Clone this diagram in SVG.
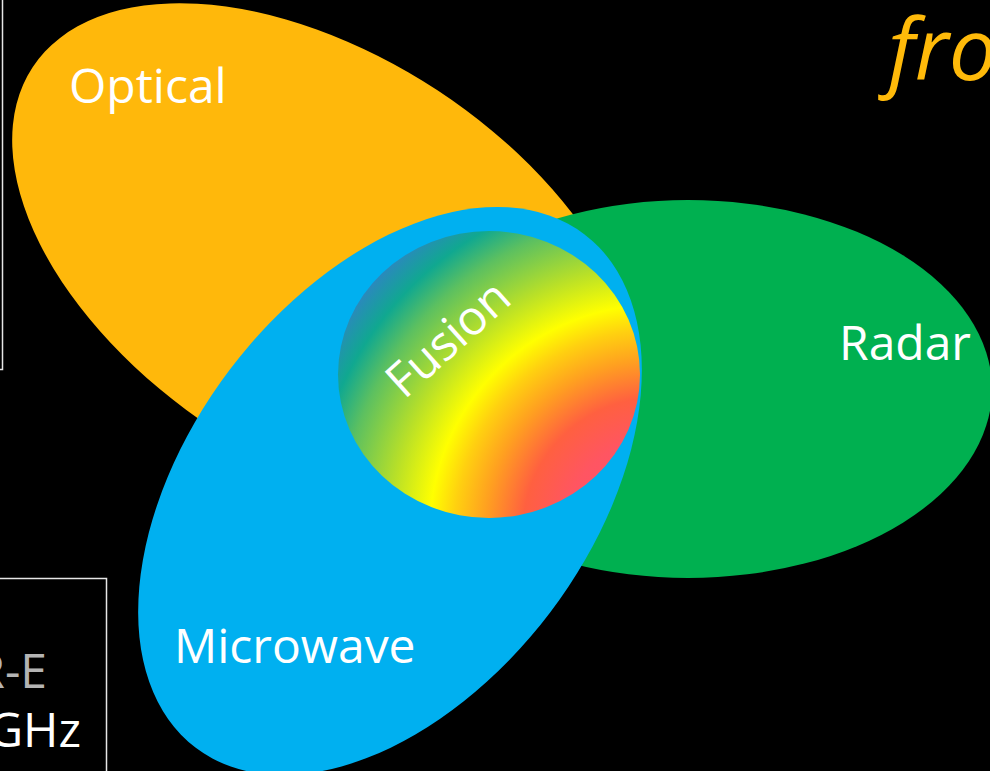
<svg xmlns="http://www.w3.org/2000/svg" width="990" height="771" viewBox="0 0 990 771">
  <defs>
    <style>
      .lbl { font-family: "Open Sans", "Liberation Sans", sans-serif; font-size: 48px; fill: #FFFFFF; }
      .box { fill: none; stroke: #E6E6E6; stroke-width: 1.5; }
    </style>
    <radialGradient id="fusionGrad" gradientUnits="userSpaceOnUse" cx="656" cy="531" r="380">
      <stop offset="0" stop-color="#FF4F72"/>
      <stop offset="0.24" stop-color="#FF5562"/>
      <stop offset="0.35" stop-color="#FF6040"/>
      <stop offset="0.45" stop-color="#FFA020"/>
      <stop offset="0.53" stop-color="#FFD010"/>
      <stop offset="0.595" stop-color="#FFFF00"/>
      <stop offset="0.70" stop-color="#B8E028"/>
      <stop offset="0.83" stop-color="#5CC060"/>
      <stop offset="0.91" stop-color="#10A890"/>
      <stop offset="1" stop-color="#2E85C2"/>
    </radialGradient>
  </defs>
  <rect x="0" y="0" width="990" height="771" fill="#000000"/>

  <g id="left-boxes">
    <rect class="box" x="-10" y="-10" width="12.5" height="379.5"/>
    <rect class="box" x="-10" y="578.5" width="116.5" height="300"/>
    <text class="lbl" x="47" y="688" text-anchor="end" style="fill:#B4B4B4">R-E</text>
    <text class="lbl" x="81" y="747" text-anchor="end">GHz</text>
  </g>

  <g id="title">
    <text x="888" y="80" font-family="'Open Sans', 'Liberation Sans', sans-serif" font-style="italic" font-size="86" fill="#FFBA0A">fro</text>
  </g>

  <g id="optical">
    <ellipse cx="0" cy="0" rx="351" ry="203" transform="translate(326 260) rotate(33.3)" fill="#FFB80B"/>
    <text class="lbl" x="69" y="103">Optical</text>
  </g>

  <g id="radar">
    <ellipse cx="688" cy="389" rx="304" ry="189" fill="#00B050"/>
    <text class="lbl" x="839" y="360">Radar</text>
  </g>

  <g id="microwave">
    <ellipse cx="0" cy="0" rx="322" ry="201" transform="translate(390 491) rotate(-52.9)" fill="#00B0F0"/>
    <text class="lbl" x="174" y="663">Microwave</text>
  </g>

  <g id="fusion">
    <ellipse cx="489" cy="374.5" rx="151" ry="143.5" fill="url(#fusionGrad)"/>
    <text class="lbl" x="0" y="0" text-anchor="middle" transform="translate(459 351) rotate(-42)">Fusion</text>
  </g>

  <g id="connectors"></g>
</svg>
